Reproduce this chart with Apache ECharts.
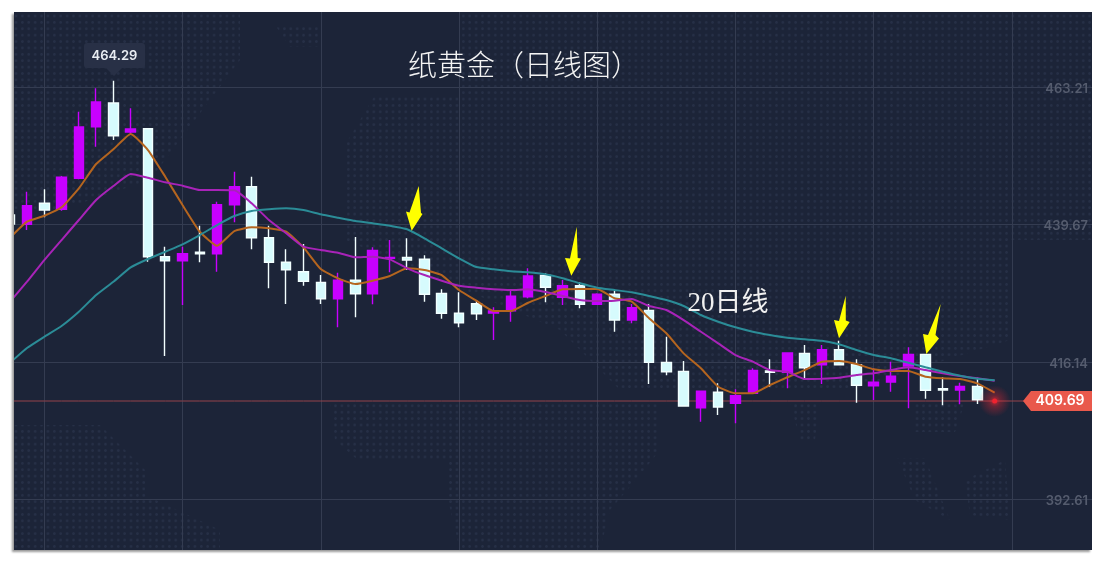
<!DOCTYPE html>
<html><head><meta charset="utf-8">
<style>
html,body{margin:0;padding:0;background:#fff;width:1103px;height:563px;overflow:hidden}
#panel{position:absolute;left:14px;top:12px;width:1078px;height:538px;background-color:#1c2438;
box-shadow:-2px 2px 2px rgba(0,0,0,.4);overflow:hidden}
#dots{position:absolute;left:-14px;top:-12px;width:1103px;height:563px;
background-image:radial-gradient(circle,rgba(130,150,200,.10) 1.1px,transparent 1.5px);background-size:6.4px 6.4px;
clip-path:path('M14 12 L240 12 L240 60 L150 180 L60 210 L14 210 Z M275 25 L320 25 L320 47 L290 47 Z M460 12 L1092 12 L1092 240 L1010 240 L1010 340 L850 390 L620 390 L560 330 L345 240 L345 145 L375 95 L460 95 Z M14 425 L100 425 L145 470 L145 495 L220 530 L220 550 L14 550 Z M330 402 L660 402 L660 450 L640 475 L610 510 L600 550 L460 550 L448 500 L448 462 L360 462 L335 440 Z M790 402 L820 402 L815 440 L800 440 Z M912 402 L965 402 L955 432 L915 432 Z M897 458 L925 458 L950 520 L915 500 Z M965 480 L1005 460 L1010 520 L970 515 Z')}
#main{position:absolute;left:0;top:0;width:1078px;height:538px}
</style></head><body>
<div id="panel"><div id="dots"></div><div id="main"></div></div>
<script src="https://cdn.jsdelivr.net/npm/echarts@6/dist/echarts.min.js"></script>
<script>
const opens=[441.30,439.71,443.31,442.28,447.58,456.42,460.47,455.51,456.07,434.17,433.48,434.92,434.68,443.07,446.15,437.42,433.21,431.60,429.78,426.98,430.13,427.83,433.89,434.06,433.72,427.90,424.48,426.12,424.53,424.92,427.32,430.98,427.22,429.20,426.02,427.73,423.33,424.99,416.09,414.55,408.32,410.96,409.08,410.79,414.60,414.38,417.63,415.68,418.25,415.68,412.09,412.72,415.46,417.46,411.57,411.35,411.98];
const closes=[439.76,442.89,442.16,447.76,456.36,460.64,454.88,456.02,434.17,433.48,434.68,434.68,443.07,446.15,437.42,433.21,431.94,429.96,426.98,430.13,427.83,435.26,434.06,433.60,427.73,424.48,422.87,424.41,424.87,427.39,430.86,428.93,429.20,426.02,427.73,423.33,425.44,416.09,414.48,408.61,411.13,408.44,410.38,414.72,414.38,417.68,415.17,418.25,415.68,412.16,412.67,413.70,417.46,411.30,411.35,411.98,409.69];
const lows=[439.76,438.74,440.91,442.04,447.41,452.99,454.14,454.99,433.31,417.17,425.90,433.21,431.60,440.05,435.43,428.76,426.07,429.20,426.07,422.08,423.79,426.02,431.50,431.89,426.47,423.56,422.08,423.33,419.91,423.04,427.05,426.36,425.90,425.34,425.90,421.33,422.77,412.38,413.87,408.61,405.93,407.07,405.65,410.67,411.92,411.64,413.06,412.38,415.58,409.18,409.64,411.06,408.22,409.86,408.73,408.90,408.96];
const highs=[441.30,445.29,445.70,447.98,458.98,462.99,464.29,459.56,456.07,435.88,435.88,439.47,443.58,448.71,447.86,439.47,435.43,436.34,431.03,431.43,437.54,435.77,437.02,437.32,434.41,428.59,428.07,426.75,425.51,428.64,432.18,431.33,430.18,429.78,427.90,428.30,426.07,426.07,420.47,416.31,411.13,412.50,411.47,415.07,416.61,417.68,419.05,419.05,419.79,416.61,415.07,416.20,418.66,417.46,413.53,412.60,413.46];
const ma5=[437.37,440.16,441.18,442.62,445.87,450.03,452.55,455.17,452.43,447.86,443.01,438.44,436.05,438.56,439.20,439.03,438.44,435.77,432.06,430.47,429.49,430.06,430.86,432.18,431.89,431.03,428.47,426.64,424.87,424.87,426.29,427.44,428.59,428.64,428.64,427.05,426.47,423.62,421.06,417.63,415.07,411.92,410.79,410.79,412.21,413.53,414.77,416.20,416.31,415.80,414.89,414.60,414.60,413.63,413.35,413.23,412.50,410.89];
const ma10=[426.41,429.89,433.60,437.02,440.45,443.87,446.27,448.32,447.69,446.90,446.32,445.58,445.58,445.53,443.31,440.45,438.17,435.88,435.31,434.85,434.06,434.17,433.72,432.18,431.03,430.06,429.20,428.86,428.59,428.47,428.59,428.12,427.44,426.75,426.58,426.64,426.93,425.73,425.04,423.33,421.33,419.34,417.34,416.20,414.77,414.48,413.23,413.29,413.46,413.92,414.21,414.77,415.24,414.77,414.21,413.75,413.35,412.94];
const ma20=[415.97,418.54,420.47,422.31,424.75,427.61,429.89,432.35,433.77,435.02,436.29,437.88,439.59,441.13,441.99,442.28,442.45,442.16,441.42,440.84,440.28,439.88,439.47,438.86,437.32,435.60,433.89,432.40,432.01,431.67,431.50,431.15,430.47,429.61,428.86,428.47,428.07,427.44,426.75,425.73,424.19,423.04,422.08,421.33,420.76,420.30,420.03,419.79,419.17,418.20,417.34,416.78,416.02,415.24,414.48,413.80,413.29,413.01];
const yTicks=[392.61,416.14,439.67,463.21];
const categories=Array.from({length:64},(_,i)=>String(i));
const lastPrice='409.69', priceLineLevel=409.47, lastIndex=57, peakLabel='464.29';
const titleText='纸黄金（日线图）', noteText='20日线';
const arrows=[
 [[418.7,186],[421,213],[422.5,214],[411.7,230.7],[406,211.5],[409.5,212.5]],
 [[576.7,226.7],[577.7,258],[581,258.5],[571.3,275.7],[565,258],[570,258.5]],
 [[845.7,295.7],[845.8,320.5],[849.7,322],[839,338.3],[834,320],[839,321]],
 [[940.7,304],[935.5,335],[939,338.5],[926.3,354],[923,334],[928,335]]
];
const candleData=opens.map((o,i)=>[o,closes[i],lows[i],highs[i]]);
const chart=echarts.init(document.getElementById('main'),null,{renderer:'canvas'});
const lineStyleOf=c=>({color:c,width:2});
const lineSeries=(name,data,c)=>({name,type:'line',data,symbol:'none',smooth:0.15,lineStyle:lineStyleOf(c),z:5,silent:true});
const glow=new echarts.graphic.RadialGradient(0.5,0.5,0.5,[{offset:0,color:'rgba(255,40,50,.75)'},{offset:0.35,color:'rgba(255,40,50,.32)'},{offset:1,color:'rgba(255,40,50,0)'}]);
chart.setOption({
 backgroundColor:'transparent',animation:false,
 grid:{left:-12.92,top:0,width:1105.92,height:538,outerBoundsMode:'none',containLabel:false},
 xAxis:{type:'category',data:categories,axisLine:{show:false},axisTick:{show:false},axisLabel:{show:false},
  splitLine:{show:true,alignWithLabel:true,interval:(i)=>i%8===2,lineStyle:{color:'#343c51',width:1}}},
 yAxis:{type:'value',position:'right',min:383.97,max:476.05,scale:true,
  axisLine:{show:false},
  axisTick:{show:false,customValues:yTicks},
  axisLabel:{inside:true,margin:19,verticalAlign:'top',lineHeight:4,customValues:yTicks,formatter:v=>v.toFixed(2),color:'#555c6e',fontFamily:'Inter',fontSize:13,fontWeight:600},
  splitLine:{show:true,lineStyle:{color:'#343c51',width:1}}},
 series:[
  {type:'line',data:categories.map(()=>priceLineLevel),symbol:'none',z:2,silent:true,lineStyle:{color:'#94434a',width:1}},
  {type:'candlestick',data:candleData,barWidth:10,silent:true,z:3,
   itemStyle:{color:'#c800ff',color0:'#d6fbfd',borderColor:'#c800ff',borderColor0:'#f2ffff',borderWidth:1.4}},
  lineSeries('MA5',ma5,'#b5651f'),
  lineSeries('MA10',ma10,'#a823b8'),
  lineSeries('MA20',ma20,'#2b8c97'),
  {type:'scatter',data:[[lastIndex,priceLineLevel]],symbolSize:32,silent:true,z:6,itemStyle:{color:glow,opacity:1}},
  {type:'scatter',data:[[lastIndex,priceLineLevel]],symbolSize:5,silent:true,z:7,itemStyle:{color:'#f0222f',opacity:1}}
 ],
 graphic:[{type:'group',x:-14,y:-12,silent:true,children:[
  ...arrows.map(p=>({type:'polygon',shape:{points:p},style:{fill:'#ffff00'},z:20})),
  {type:'polygon',shape:{points:[[1031,391],[1092,391],[1092,411],[1031,411],[1023,401]]},style:{fill:'#e9594c'},z:20},
  {type:'text',style:{text:lastPrice,x:1060,y:401,align:'center',verticalAlign:'middle',fill:'#fff',font:'600 14px Inter'},z:21},
  {type:'rect',shape:{x:84,y:43,width:61,height:25,r:3},style:{fill:'#283046'},z:20},
  {type:'polygon',shape:{points:[[106,68],[122,68],[114,76]]},style:{fill:'#283046'},z:20},
  {type:'text',style:{text:peakLabel,x:114.5,y:56,align:'center',verticalAlign:'middle',fill:'#e8ecf2',font:'600 13px Inter'},z:21},
  {type:'text',style:{text:titleText,x:524,y:65,align:'center',verticalAlign:'middle',fill:'#f4f4f4',font:'300 29px "Noto Sans CJK SC"'},z:21},
  {type:'text',style:{text:noteText,x:728,y:304,align:'center',verticalAlign:'middle',fill:'#f0f0f0',font:'27px "Liberation Serif","Noto Sans CJK SC"'},z:21}
 ]}]
});
</script></body></html>
